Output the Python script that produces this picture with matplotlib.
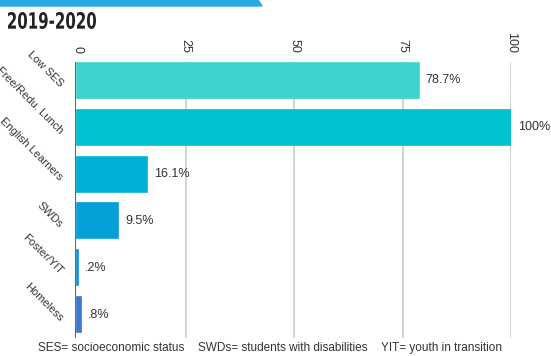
import matplotlib
matplotlib.use("Agg")
import matplotlib.pyplot as plt
from matplotlib.patches import Polygon, PathPatch
from matplotlib.textpath import TextPath
from matplotlib.font_manager import FontProperties
from matplotlib.transforms import Affine2D, ScaledTranslation

# datos
categories = ["Low SES", "Free/Redu. Lunch", "English Learners", "SWDs", "Foster/YIT", "Homeless"]
values = [78.7, 100, 16.1, 9.5, 0.2, 0.8]
value_labels = ["78.7%", "100%", "16.1%", "9.5%", ".2%", ".8%"]
colors = ["#3dd3cf", "#00c0d2", "#00b1d5", "#05a0d8", "#0b90e0", "#3b78d0"]
ticks = [0, 25, 50, 75, 100]
footer = ["SES= socioeconomic status", "SWDs= students with disabilities", "YIT= youth in transition"]

plt.rcParams['font.family'] = ['Liberation Sans', 'DejaVu Sans']

fig = plt.figure(figsize=(5.51, 3.56), dpi=100)
ax = fig.add_axes([75/551, 1-338/356, 436/551, 281/356])

y = list(range(len(categories)))
ax.barh(y, values, height=0.75, color=colors, edgecolor=colors, lw=1.2, zorder=3)
for yi, v, lab in zip(y, values, value_labels):
    ax.text(v + 1.6, yi, lab, va='center', ha='left', fontsize=9, color='#333333')

ax.set_xlim(-0.5, 100)
ax.set_ylim(len(categories) - 0.5, -0.5)
ax.set_xticks(ticks)
ax.xaxis.tick_top()
ax.set_xticklabels([str(t) for t in ticks], rotation=-90, fontsize=9, color='#333333')
ax.tick_params(axis='x', length=0, pad=3)
ax.set_yticks(y)
ax.set_yticklabels(categories, rotation=-45, fontsize=8, color='#333333',
                   rotation_mode='anchor', ha='right', va='center')
ax.tick_params(axis='y', length=0, pad=10)
# bajar un poco las etiquetas
off = ScaledTranslation(0, -5/100, fig.dpi_scale_trans)
for lab in ax.get_yticklabels():
    lab.set_transform(lab.get_transform() + off)
for t in ticks[1:]:
    ax.axvline(t, ymax=0.98, color='#cccccc', lw=1.2, zorder=1)
ax.axvline(-0.5, ymax=0.98, color='#666666', lw=1.5, zorder=2)
for s in ax.spines.values():
    s.set_visible(False)

# banda superior
fig.patches.append(Polygon([[0, 1], [258/551, 1], [262/551, 1-6/356], [0, 1-6/356]],
                           closed=True, transform=fig.transFigure, color='#29a9e1'))

# titulo estrecho (no hay fuente condensada, se escala el trazo)
tp = TextPath((0, 0), "2019-2020", size=22, prop=FontProperties(family='DejaVu Sans', weight='bold'))
ext = tp.get_extents()
sx = 88 / ext.width
sy = 17 / ext.height
tr = Affine2D().translate(-ext.x0, -ext.y0).scale(sx, sy).translate(8, 356 - 29)
fig.patches.append(PathPatch(tr.transform_path(tp), color='#222222', lw=0,
                             transform=None))

xs = [38, 198, 381]
for x, txt in zip(xs, footer):
    fig.text(x/551, 1-348/356, txt, fontsize=8.5, color='#333333', va='center', ha='left')

fig.savefig("out.png", dpi=100)
